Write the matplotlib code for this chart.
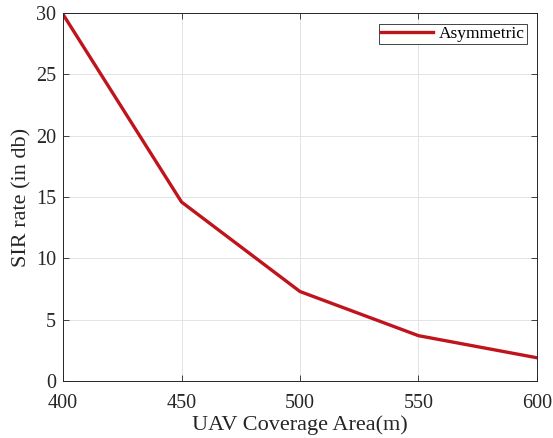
import matplotlib

matplotlib.use("Agg")
import matplotlib.pyplot as plt

coverage_area = [400, 450, 500, 550, 600]
sir_db = [29.9, 14.6, 7.3, 3.7, 1.9]
x_ticks = [400, 450, 500, 550, 600]
y_ticks = [0, 5, 10, 15, 20, 25, 30]

plt.rcParams["font.family"] = ["Liberation Serif", "DejaVu Serif"]

fig = plt.figure(figsize=(5.53, 4.38), dpi=100)
ax = fig.add_axes([0.114, 0.130, 0.857, 0.840])

ax.plot(coverage_area, sir_db, color="#c0141c", linewidth=2.4, label="Asymmetric")

ax.set_xlim(400, 600)
ax.set_ylim(0, 30)
ax.set_xticks(x_ticks)
ax.set_yticks(y_ticks)
ax.tick_params(direction="in", top=True, right=True, labelsize=14.5,
               length=4, width=0.6, colors="#262626")
ax.tick_params(axis="x", pad=9)
ax.tick_params(axis="y", pad=5)
ax.grid(True, color="#e3e3e3", linewidth=0.7)
ax.set_axisbelow(True)
for spine in ax.spines.values():
    spine.set_linewidth(0.7)
    spine.set_color("#262626")

ax.set_xlabel("UAV Coverage Area(m)", fontsize=16, color="#262626", labelpad=2)
ax.set_ylabel("SIR rate (in db)", fontsize=16, color="#262626", labelpad=3)

leg = ax.legend(loc="upper right", fontsize=12.5, fancybox=False, framealpha=1,
                edgecolor="#262626", handlelength=3.0, handletextpad=0.3,
                borderpad=0.12, borderaxespad=0.6)
leg.get_frame().set_linewidth(0.6)

fig.savefig("out.png", dpi=100)
